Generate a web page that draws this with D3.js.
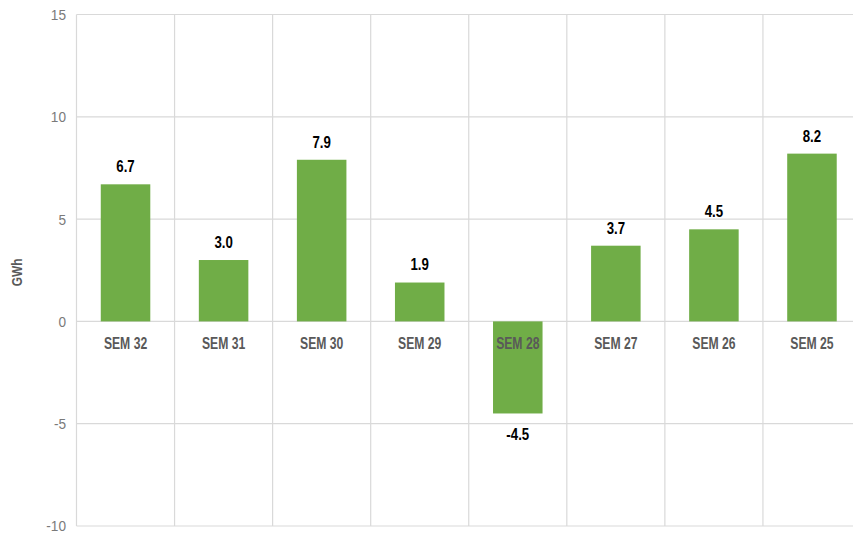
<!DOCTYPE html>
<html><head><meta charset="utf-8">
<script src="https://cdn.jsdelivr.net/npm/d3@7"></script>
<style>
html,body{margin:0;padding:0;background:#fff;overflow:hidden;}
svg{display:block;}
</style></head>
<body>
<svg id="chart" width="853" height="535"></svg>
<script>
const categories = ["SEM 32","SEM 31","SEM 30","SEM 29","SEM 28","SEM 27","SEM 26","SEM 25"];
const values = [6.7, 3.0, 7.9, 1.9, -4.5, 3.7, 4.5, 8.2];
const yTicks = [-10, -5, 0, 5, 10, 15];
const yLabel = "GWh";

const font = "'Liberation Sans',Arial,sans-serif";
const svg = d3.select("#chart");
const m = {left: 76.5, top: 14.5, right: 861, bottom: 526};

const x = d3.scaleBand().domain(categories).range([m.left, m.right]).paddingInner(0).paddingOuter(0);
const y = d3.scaleLinear().domain([-10, 15]).range([m.bottom, m.top]);
const barW = x.bandwidth() * 0.505;

// horizontal grid
svg.append("g").selectAll("line").data(yTicks).join("line")
  .attr("x1", m.left).attr("x2", m.right)
  .attr("y1", d => y(d)).attr("y2", d => y(d))
  .attr("stroke", "#d9d9d9").attr("stroke-width", 1.2);
// vertical grid
const vx = categories.map(c => x(c)).concat([m.right]);
svg.append("g").selectAll("line").data(vx).join("line")
  .attr("x1", d => d).attr("x2", d => d)
  .attr("y1", m.top).attr("y2", m.bottom)
  .attr("stroke", "#d9d9d9").attr("stroke-width", 1.2);

// y tick labels
svg.append("g").selectAll("text").data(yTicks).join("text")
  .attr("transform", d => `translate(66,${y(d)}) scale(0.88,1)`)
  .attr("dy", "0.35em")
  .attr("text-anchor", "end")
  .attr("font-family", font).attr("font-size", 15.5).attr("fill", "#7a7a7a")
  .text(d => d);

// y axis title
svg.append("text")
  .attr("transform", `translate(22,${y(2.4)}) rotate(-90) scale(0.85,1)`)
  .attr("text-anchor", "middle")
  .attr("font-family", font).attr("font-weight", "bold").attr("font-size", 14).attr("fill", "#595959")
  .text(yLabel);

// bars
const data = categories.map((c, i) => ({c, v: values[i]}));
svg.append("g").selectAll("rect").data(data).join("rect")
  .attr("x", d => x(d.c) + (x.bandwidth() - barW) / 2)
  .attr("width", barW)
  .attr("y", d => y(Math.max(0, d.v)))
  .attr("height", d => Math.abs(y(d.v) - y(0)))
  .attr("fill", "#70ad47");

// category labels
svg.append("g").selectAll("text").data(categories).join("text")
  .attr("transform", d => `translate(${x(d) + x.bandwidth() / 2},${y(0) + 22}) scale(0.76,1)`)
  .attr("dy", "0.35em")
  .attr("text-anchor", "middle")
  .attr("font-family", font).attr("font-weight", "bold").attr("font-size", 16).attr("fill", "#595959")
  .text(d => d);

// value labels
svg.append("g").selectAll("text").data(data).join("text")
  .attr("transform", d => `translate(${x(d.c) + x.bandwidth() / 2},${d.v >= 0 ? y(d.v) - 18 : y(d.v) + 21}) scale(0.78,1)`)
  .attr("dy", "0.35em")
  .attr("text-anchor", "middle")
  .attr("font-family", font).attr("font-weight", "bold").attr("font-size", 17).attr("fill", "#000")
  .text(d => d.v.toFixed(1));
</script>
</body></html>
